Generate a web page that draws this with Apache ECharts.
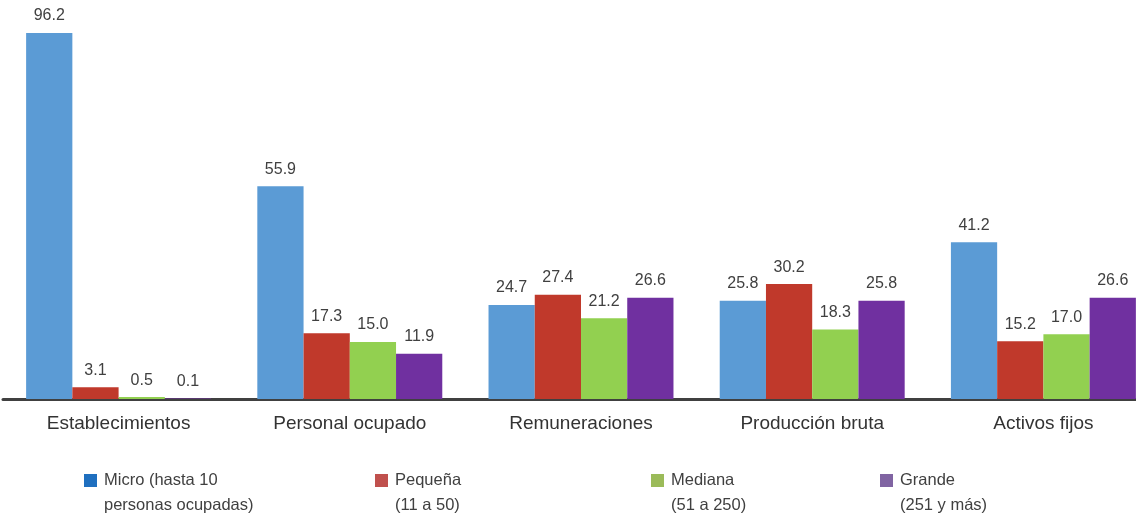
<!DOCTYPE html>
<html>
<head>
<meta charset="utf-8">
<script src="https://cdn.jsdelivr.net/npm/echarts@6/dist/echarts.min.js"></script>
<style>
html,body{margin:0;padding:0;background:#fff;}
#c{width:1136px;height:513px;}
</style>
</head>
<body>
<div id="c"></div>
<script>
const categories = ['Establecimientos', 'Personal ocupado', 'Remuneraciones', 'Producción bruta', 'Activos fijos'];
const seriesNames = ['Micro (hasta 10\npersonas ocupadas)', 'Pequeña\n(11 a 50)', 'Mediana\n(51 a 250)', 'Grande\n(251 y más)'];
const micro = [96.2, 55.9, 24.7, 25.8, 41.2];
const pequena = [3.1, 17.3, 27.4, 30.2, 15.2];
const mediana = [0.5, 15.0, 21.2, 18.3, 17.0];
const grande = [0.1, 11.9, 26.6, 25.8, 26.6];

const barColors = ['#5b9bd5', '#c0392b', '#92d050', '#7030a0'];
const legendColors = ['#1f6fbf', '#c0504d', '#9bbb59', '#8064a2'];
const legendLefts = [84, 375, 651, 880];
const values = [micro, pequena, mediana, grande];

const chart = echarts.init(document.getElementById('c'));
const font = 'Liberation Sans, Arial, sans-serif';

const legends = seriesNames.map((n, i) => ({
  left: legendLefts[i],
  top: 443,
  padding: 0,
  orient: 'horizontal',
  itemWidth: 13,
  itemHeight: 13,
  itemGap: 0,
  icon: 'rect',
  selectedMode: false,
  data: [{ name: n, itemStyle: { color: legendColors[i] } }],
  formatter: function (name) { return '\n' + name; },
  textStyle: { fontFamily: font, fontSize: 16.5, color: '#404040', lineHeight: 25, padding: [0, 0, 0, 2] }
}));

chart.setOption({
  animation: false,
  backgroundColor: '#fff',
  grid: { left: 3, width: 1156, top: 33, bottom: 114, containLabel: false, outerBoundsMode: 'none' },
  legend: legends,
  xAxis: {
    type: 'category',
    data: categories,
    axisLine: { lineStyle: { color: '#404040', width: 3 } },
    axisTick: { show: false },
    axisLabel: { fontFamily: font, fontSize: 19, color: '#333', margin: 15 }
  },
  yAxis: {
    type: 'value',
    min: 0,
    max: 96.2,
    show: false,
    splitLine: { show: false }
  },
  series: values.map((v, i) => ({
    name: seriesNames[i],
    type: 'bar',
    data: v,
    barGap: '0%',
    barCategoryGap: '20%',
    itemStyle: { color: barColors[i] },
    label: {
      show: true,
      position: 'top',
      distance: 9,
      fontFamily: font,
      fontSize: 16,
      color: '#404040',
      formatter: p => p.value.toFixed(1)
    }
  }))
});
</script>
</body>
</html>
